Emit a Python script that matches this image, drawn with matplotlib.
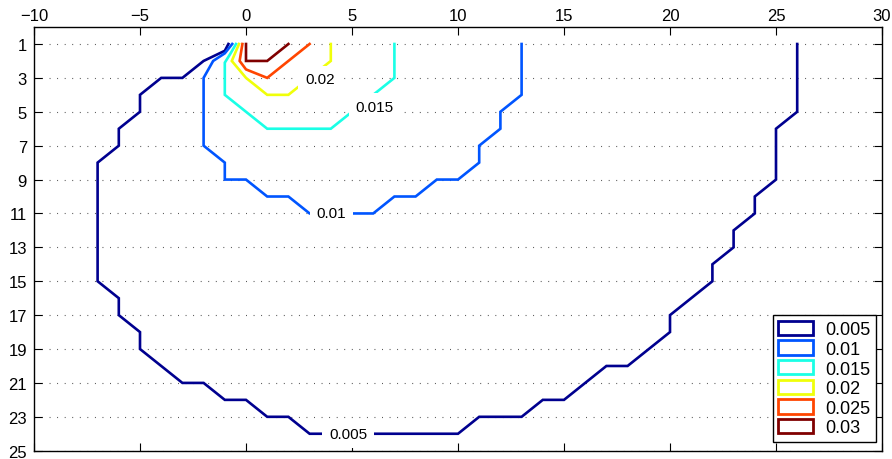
import matplotlib
matplotlib.use('Agg')
import matplotlib.pyplot as plt
from matplotlib.patches import Patch

plt.rcParams['font.family'] = ['Liberation Sans', 'DejaVu Sans']

# 等值线数值
levels = [0.005, 0.01, 0.015, 0.02, 0.025, 0.03]
colors = ['#00008F', '#0055FF', '#1AFFE6', '#F0FF0A', '#FF4500', '#800000']

# 各等值线的折线顶点
c005_x = [-0.83, -1, -2, -3, -4, -5, -5, -6, -6, -7, -7, -6, -6, -5, -5, -3, -2, -1, 0, 1, 2, 3,
          10, 11, 13, 14, 15, 17, 18, 20, 20, 22, 22, 23, 23, 24, 24, 25, 25, 26, 26]
c005_y = [1, 1.4, 2, 3, 3, 4, 5, 6, 7, 8, 15, 16, 17, 18, 19, 21, 21, 22, 22, 23, 23, 24,
          24, 23, 23, 22, 22, 20, 20, 18, 17, 15, 14, 13, 12, 11, 10, 9, 6, 5, 1]
c010_x = [-0.65, -1, -1.55, -2, -2, -1, -1, 0, 1, 2, 3, 6, 7, 8, 9, 10, 11, 11, 12, 12, 13, 13]
c010_y = [1, 1.55, 2, 3, 7, 8, 9, 9, 10, 10, 11, 11, 10, 10, 9, 9, 8, 7, 6, 5, 4, 1]
c015_x = [-0.47, -0.75, -1, -1, 1, 4, 5, 6, 7, 7]
c015_y = [1, 1.6, 2.1, 4, 6, 6, 5, 4, 3, 1]
c020_x = [-0.33, -0.67, 0, 1, 2, 3, 4, 4]
c020_y = [1, 2, 3, 4, 4, 3, 2, 1]
c025_x = [-0.17, -0.3, 0, 1, 3]
c025_y = [1, 2, 2.5, 3, 1]
c030_x = [0, 0, 1, 2]
c030_y = [1, 2, 2, 1]

lines_x = [c005_x, c010_x, c015_x, c020_x, c025_x, c030_x]
lines_y = [c005_y, c010_y, c015_y, c020_y, c025_y, c030_y]

# 等值线标注
label_levels = [0.005, 0.01, 0.015, 0.02]
label_x = [4.83, 4.04, 6.06, 3.49]
label_y = [24.0, 10.97, 4.69, 3.09]

fig = plt.figure(figsize=(8.92, 4.6), dpi=100)
ax = fig.add_axes([34/892, 1-451.7/460, 848/892, (451.7-28.05)/460])

for xs, ys, c in zip(lines_x, lines_y, colors):
    ax.plot(xs, ys, color=c, lw=1.9, zorder=3, solid_joinstyle='miter')

for lv, tx, ty in zip(label_levels, label_x, label_y):
    ax.text(tx, ty, '%g' % lv, fontsize=11, ha='center', va='center', zorder=5,
            bbox=dict(facecolor='white', edgecolor='none', pad=5))

ax.set_xlim(-10, 30)
ax.set_ylim(25, 0)
ax.set_xticks(range(-10, 31, 5))
ax.set_yticks(range(1, 26, 2))
ax.yaxis.grid(True, color='#444444', linestyle=(0, (0.8, 6)), lw=0.8)
ax.tick_params(axis='both', direction='in', length=5.5, width=0.8, labelsize=12,
               top=True, bottom=True, left=True, right=True)
ax.tick_params(axis='x', labeltop=True, labelbottom=False, pad=3)
ax.tick_params(axis='y', pad=5)
for s in ax.spines.values():
    s.set_linewidth(1.0)

handles = [Patch(facecolor='white', edgecolor=c, linewidth=2) for c in colors]
leg = ax.legend(handles, ['%g' % lv for lv in levels], loc='lower right',
                bbox_to_anchor=(0.993, 0.021), borderaxespad=0, fontsize=13,
                fancybox=False, framealpha=1, edgecolor='black',
                handlelength=1.9, handleheight=0.85, labelspacing=0.12,
                handletextpad=0.7, borderpad=0.3)
leg.get_frame().set_linewidth(1.0)

fig.savefig('out.png', dpi=100)
